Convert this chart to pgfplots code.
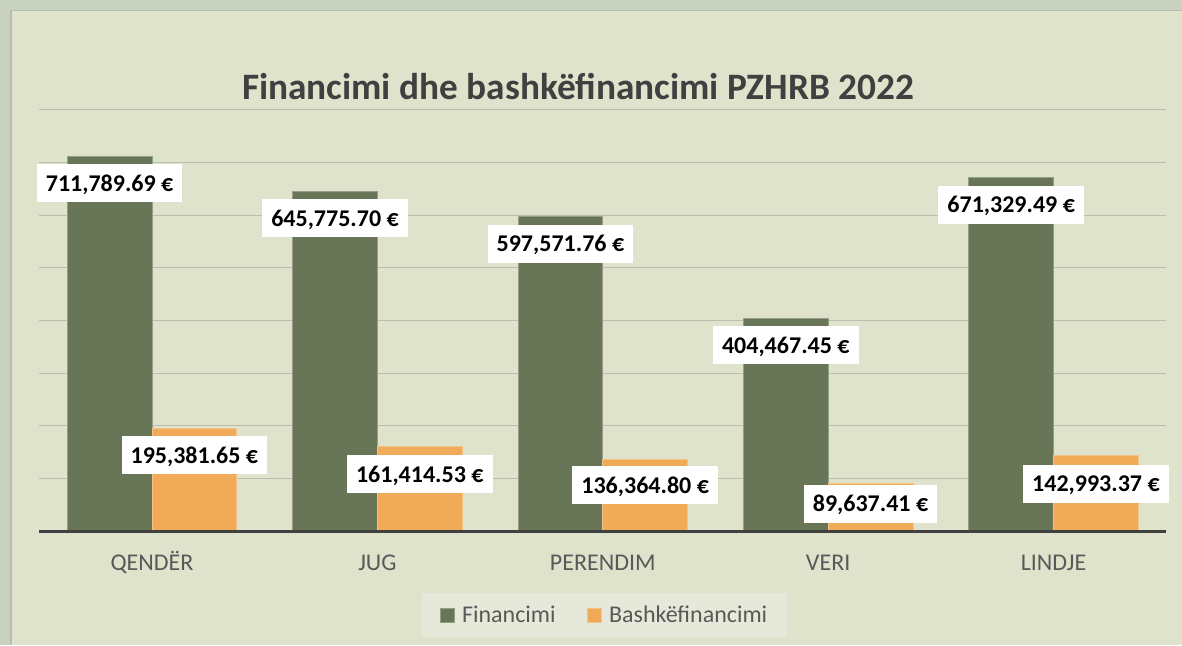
\documentclass[border=0pt]{standalone}
\usepackage{pgfplots}
\pgfplotsset{compat=1.18}
\usepackage{pgfplotstable}
\usepackage{fontspec}
\setmainfont{Carlito}
\definecolor{outerbg}{HTML}{C9D2BE}
\definecolor{innerbg}{HTML}{DFE3CB}
\definecolor{bordercol}{HTML}{B8BEAE}
\definecolor{gridcol}{HTML}{BABEAA}
\definecolor{greenbar}{HTML}{687556}
\definecolor{orangebar}{HTML}{F0AA58}
\definecolor{titlecol}{HTML}{404040}
\definecolor{labcol}{HTML}{595959}
\definecolor{legbg}{HTML}{E6E9D9}

\pgfplotstableread[col sep=semicolon]{
x;y;label;s
0;711789.69;711,789.69 €;27
1;645775.70;645,775.70 €;27
2;597571.76;597,571.76 €;27
3;404467.45;404,467.45 €;27
4;671329.49;671,329.49 €;27
}\financimi
\pgfplotstableread[col sep=semicolon]{
x;y;label;s
0;195381.65;195,381.65 €;27
1;161414.53;161,414.53 €;28
2;136364.80;136,364.80 €;26
3;89637.41;89,637.41 €;20
4;142993.37;142,993.37 €;28
}\bashke

\begin{document}
\begin{tikzpicture}[x=1pt,y=1pt]
\useasboundingbox (0,0) rectangle (1182,645);
\fill[outerbg] (0,0) rectangle (1182,645);
\fill[innerbg] (10,0) rectangle (1182,634);
\draw[bordercol, line width=1.5pt] (10.75,0) -- (10.75,634.25) -- (1182,634.25);
\node[anchor=base, text=titlecol, font=\bfseries\fontsize{37.3}{37.3}\selectfont, inner sep=0pt] at (578,545) {Financimi dhe bashkëfinancimi PZHRB 2022};
\begin{axis}[
  at={(152pt,114pt)}, anchor=origin,
  scale only axis, width=1127pt, height=421pt,
  xmin=-0.5, xmax=4.5, ymin=0, ymax=800000,
  ytick={100000,200000,300000,400000,500000,600000,700000,800000},
  yticklabels={}, scaled y ticks=false,
  xtick={0,1,2,3,4},
  xticklabels={QENDËR,JUG,PERENDIM,VERI,LINDJE},
  xticklabel style={anchor=base, yshift=-39pt, text=labcol, font=\fontsize{24}{24}\selectfont, inner sep=0pt},
  major tick length=0pt,
  axis line style={draw=none},
  ymajorgrids, grid style={gridcol, line width=1pt},
  clip=false,
  ybar, bar width=0.376,
  point meta=explicit symbolic,
  nodes near coords,
  visualization depends on={\thisrow{s} \as \labshift},
  nodes near coords style={anchor=center, yshift=-\labshift pt, fill=white, text=black,
    font=\bfseries\fontsize{24}{24}\selectfont, inner xsep=9pt, inner ysep=7pt,
    text height=20pt, text depth=4pt},
  legend columns=2,
  legend style={at={(0.5015,-0.1995)}, anchor=center, fill=legbg, draw=none,
    text=labcol, font=\fontsize{24}{24}\selectfont, inner xsep=18pt, inner ysep=11pt,
    /tikz/every even column/.append style={column sep=29pt}},
  legend image code/.code={\fill[#1] (0pt,-7pt) rectangle (14pt,7pt); \path[draw=none,fill=none] (0pt,0pt) rectangle (20pt,0pt);},
]
\addplot[fill=greenbar, draw=greenbar!70!white, line width=0.8pt, bar shift=-0.188]
  table[x=x, y=y, meta=label] {\financimi};
\addlegendentry{Financimi}
\addplot[fill=orangebar, draw=orangebar!70!white, line width=0.8pt, bar shift=0.188]
  table[x=x, y=y, meta=label] {\bashke};
\addlegendentry{Bashkëfinancimi}
\draw[titlecol, line width=3pt] (axis cs:-0.5,0) -- (axis cs:4.5,0);
\end{axis}
\end{tikzpicture}
\end{document}
